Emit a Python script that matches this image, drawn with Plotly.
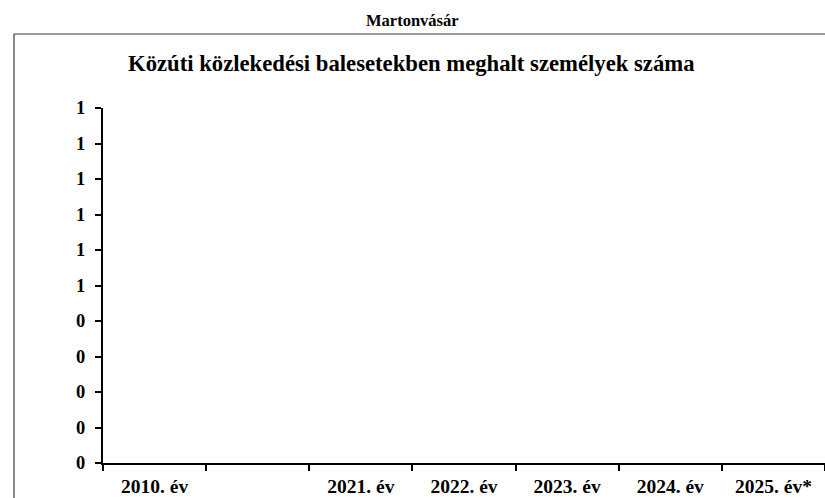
import plotly.graph_objects as go

# ---- data ----
categories = ["2010. év", " ", "2021. év", "2022. év", "2023. év", "2024. év", "2025. év*"]
deaths = [0, 0, 0, 0, 0, 0, 0]
y_tick_values = [0, 0.1, 0.2, 0.3, 0.4, 0.5, 0.6, 0.7, 0.8, 0.9, 1.0]
y_tick_labels = ["0", "0", "0", "0", "0", "1", "1", "1", "1", "1", "1"]
location = "Martonvásár"
chart_title = "Közúti közlekedési balesetekben meghalt személyek száma"

# ---- layout geometry (pixels) ----
W, H = 825, 498
L, R, T, B = 103, 0, 108, 35
pw, ph = W - L - R, H - T - B

def px_x(x):
    return (x - L) / pw

def px_y(y):
    return (H - B - y) / ph

FONT = "Liberation Serif"

fig = go.Figure(
    go.Bar(x=categories, y=deaths, marker=dict(color="#4F81BD", line=dict(width=0)),
           hoverinfo="skip")
)

fig.update_layout(
    width=W, height=H,
    margin=dict(l=L, r=R, t=T, b=B, pad=0),
    paper_bgcolor="white", plot_bgcolor="white",
    showlegend=False,
    font=dict(family=FONT, color="black"),
)

fig.update_xaxes(
    type="category", categoryorder="array", categoryarray=categories,
    tickson="boundaries", ticks="outside", ticklen=6, tickwidth=2, tickcolor="black",
    showline=True, linewidth=2, linecolor="black", showgrid=False, zeroline=False,
    tickfont=dict(family=FONT, size=19.5, weight="bold", color="black"),
    ticklabelstandoff=5,
)
fig.update_yaxes(
    range=[0, 1], tickvals=y_tick_values, ticktext=y_tick_labels,
    ticks="outside", ticklen=6, tickwidth=2, tickcolor="black",
    showline=True, linewidth=2, linecolor="black", showgrid=False, zeroline=False,
    tickfont=dict(family=FONT, size=18.5, weight="bold", color="black"),
    ticklabelstandoff=6,
)

# outer frame (left and top edges visible)
frame_color = "#3a3a3a"
fig.add_shape(type="line", xref="paper", yref="paper",
              x0=px_x(14), x1=px_x(14), y0=px_y(34), y1=px_y(520),
              line=dict(color=frame_color, width=1.2))
fig.add_shape(type="line", xref="paper", yref="paper",
              x0=px_x(14), x1=px_x(840), y0=px_y(34), y1=px_y(34),
              line=dict(color=frame_color, width=1.2))

fig.add_annotation(text=location, xref="paper", yref="paper",
                   x=px_x(412), y=px_y(20), xanchor="center", yanchor="middle",
                   showarrow=False, font=dict(family=FONT, size=16.5, weight="bold", color="black"))
fig.add_annotation(text=chart_title, xref="paper", yref="paper",
                   x=px_x(411), y=px_y(64), xanchor="center", yanchor="middle",
                   showarrow=False, font=dict(family=FONT, size=22.7, weight="bold", color="black"))

fig.write_html("out.html",
               config={"displayModeBar": False, "staticPlot": True},
               post_script="document.body.style.margin='0';document.body.style.overflow='hidden';")
